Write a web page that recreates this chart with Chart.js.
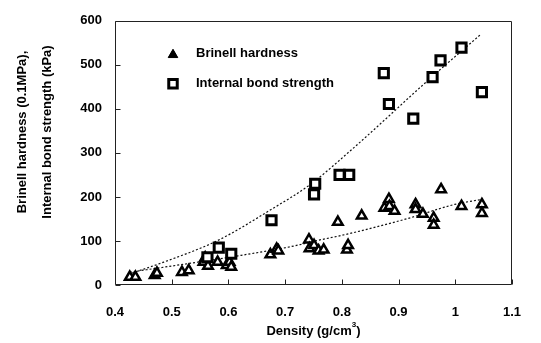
<!DOCTYPE html>
<html lang="en">
<head>
  <meta charset="UTF-8">
  <title>Density vs Brinell hardness and internal bond strength</title>
  <script src="https://cdn.jsdelivr.net/npm/chart.js"></script>
  <style>
    body { margin: 0; background: #fff; }
    #wrap { width: 541px; height: 343px; position: relative; }
  </style>
</head>
<body>
  <div id="wrap"><canvas id="chart"></canvas></div>
  <script>
    // Brinell hardness (0.1MPa) against density
    const bhDensity = [0.426, 0.436, 0.470, 0.474, 0.518, 0.530, 0.556, 0.559, 0.564, 0.581, 0.597, 0.602, 0.605,
      0.674, 0.685, 0.688, 0.742, 0.743, 0.751, 0.759, 0.768, 0.793, 0.809, 0.811, 0.835, 0.875, 0.883, 0.884,
      0.893, 0.930, 0.930, 0.943, 0.962, 0.962, 0.975, 1.011, 1.047, 1.047];
    const bhValues = [18, 18, 22, 27, 29, 33, 52, 62, 43, 52, 45, 52, 41,
      69, 82, 78, 103, 83, 90, 78, 80, 143, 80, 90, 157, 175, 195, 179,
      168, 183, 172, 161, 152, 136, 217, 179, 183, 163];

    // internal bond strength (kPa) against density
    const ibDensity = [0.563, 0.583, 0.605, 0.676, 0.751, 0.753, 0.796, 0.813, 0.874, 0.883, 0.926, 0.960, 0.974, 1.011, 1.047];
    const ibValues = [63, 85, 71, 147, 206, 230, 250, 250, 481, 411, 378, 472, 510, 539, 438];

    // dotted trend lines
    const bhTrendX = [0.426, 0.611, 0.717, 0.753, 0.811, 0.919, 0.999, 1.045];
    const bhTrendY = [29, 65, 89, 100, 116, 152, 183, 194];
    const ibTrendX = [0.43, 0.486, 0.581, 0.676, 0.744, 0.816, 0.96, 1.044];
    const ibTrendY = [27, 52, 101, 172, 228, 306, 474, 568];

    const legendNames = ['Brinell hardness', 'Internal bond strength'];
    const xTitle = 'Density (g/cm';
    const yTitle = ['Brinell hardness (0.1MPa),', 'Internal bond strength (kPa)'];

    const pts = (xs, ys) => xs.map((x, i) => ({ x: x, y: ys[i] }));
    const FONT = '"Liberation Sans", Arial, sans-serif';

    const framePlugin = {
      id: 'frame',
      afterDraw(chart) {
        const ctx = chart.ctx, a = chart.chartArea;
        const xs = chart.scales.x, ys = chart.scales.y;
        ctx.save();
        ctx.setLineDash([]);
        ctx.strokeStyle = '#222';
        ctx.lineWidth = 1;
        const L = Math.round(a.left) + 0.5, R = Math.round(a.right) - 0.5;
        const T = Math.round(a.top) + 0.5, B = Math.round(a.bottom) - 0.5;
        ctx.beginPath();
        ctx.rect(L, T, R - L, B - T);
        // ticks pointing inwards
        ys.ticks.forEach((t, i) => {
          const y = Math.round(ys.getPixelForTick(i)) + 0.5;
          ctx.moveTo(L, y); ctx.lineTo(L + 5, y);
        });
        xs.ticks.forEach((t, i) => {
          const x = Math.round(xs.getPixelForTick(i)) + 0.5;
          ctx.moveTo(x, B); ctx.lineTo(x, B - 5);
        });
        ctx.stroke();

        // legend
        ctx.fillStyle = '#000';
        ctx.strokeStyle = '#000';
        ctx.font = 'bold 13px ' + FONT;
        ctx.textBaseline = 'middle';
        ctx.textAlign = 'left';
        const lx = a.left + 58;
        const rows = [a.top + 33, a.top + 63];
        Chart.helpers.drawPoint(ctx, { pointStyle: 'triangle', radius: 5.5, borderWidth: 2.5 }, lx, rows[0] + 1);
        ctx.fill();
        ctx.fillText(legendNames[0], a.left + 81, rows[0]);
        ctx.fillStyle = '#fff';
        ctx.lineWidth = 3;
        Chart.helpers.drawPoint(ctx, { pointStyle: 'rect', radius: 6, borderWidth: 3 }, lx, rows[1]);
        ctx.fillStyle = '#000';
        ctx.fillText(legendNames[1], a.left + 81, rows[1]);

        // x title with superscript
        ctx.font = 'bold 13px ' + FONT;
        const w1 = ctx.measureText(xTitle).width;
        ctx.font = 'bold 8px ' + FONT;
        const w2 = ctx.measureText('3').width;
        ctx.font = 'bold 13px ' + FONT;
        const w3 = ctx.measureText(')').width;
        const x0 = (a.left + a.right) / 2 - (w1 + w2 + w3) / 2;
        const ty = 331;
        ctx.fillText(xTitle, x0, ty);
        ctx.font = 'bold 8px ' + FONT;
        ctx.fillText('3', x0 + w1, ty - 6);
        ctx.font = 'bold 13px ' + FONT;
        ctx.fillText(')', x0 + w1 + w2, ty);

        // y title, two rotated lines
        ctx.textAlign = 'center';
        [22, 47].forEach((x, i) => {
          ctx.save();
          ctx.translate(x, 132);
          ctx.rotate(-Math.PI / 2);
          ctx.fillText(yTitle[i], 0, 0);
          ctx.restore();
        });
        ctx.restore();
      }
    };

    new Chart(document.getElementById('chart'), {
      type: 'scatter',
      data: {
        datasets: [
          {
            label: legendNames[1], data: pts(ibDensity, ibValues), order: 1,
            pointStyle: 'rect', pointRadius: 6.5, pointHoverRadius: 6.5,
            backgroundColor: '#fff', borderColor: '#000', borderWidth: 3
          },
          {
            label: legendNames[0], data: pts(bhDensity, bhValues), order: 2,
            pointStyle: 'triangle', pointRadius: 5.5, pointHoverRadius: 5.5,
            backgroundColor: '#fff', borderColor: '#000', borderWidth: 2.5
          },
          {
            label: 'ib trend', data: pts(ibTrendX, ibTrendY), order: 3,
            showLine: true, pointRadius: 0, borderColor: '#111', borderWidth: 1.2,
            borderDash: [2, 2], cubicInterpolationMode: 'monotone'
          },
          {
            label: 'bh trend', data: pts(bhTrendX, bhTrendY), order: 4,
            showLine: true, pointRadius: 0, borderColor: '#111', borderWidth: 1.2,
            borderDash: [2, 2], cubicInterpolationMode: 'monotone'
          }
        ]
      },
      options: {
        responsive: true,
        maintainAspectRatio: false,
        animation: false,
        layout: { padding: { top: 17, right: 14, left: 0, bottom: 0 } },
        plugins: { legend: { display: false }, tooltip: { enabled: false } },
        scales: {
          x: {
            type: 'linear', min: 0.4, max: 1.1,
            grid: { display: false, drawTicks: false },
            border: { display: false },
            ticks: {
              stepSize: 0.1, padding: 20, color: '#000',
              font: { family: FONT, size: 13, weight: 'bold' },
              callback: v => Math.round(v * 10) / 10
            },
            afterFit: s => { s.height = 58; }
          },
          y: {
            min: 0, max: 600,
            grid: { display: false, drawTicks: false },
            border: { display: false },
            ticks: {
              stepSize: 100, padding: 13, color: '#000',
              font: { family: FONT, size: 13, weight: 'bold' }
            },
            afterFit: s => { s.width = 115; }
          }
        }
      },
      plugins: [framePlugin]
    });
  </script>
</body>
</html>
